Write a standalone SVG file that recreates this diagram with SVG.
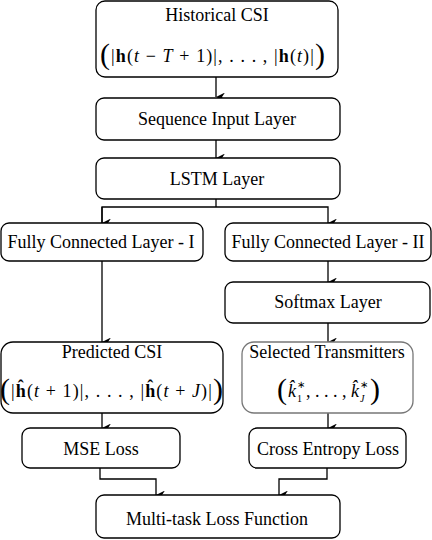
<svg xmlns="http://www.w3.org/2000/svg" width="432" height="540" viewBox="0 0 432 540">
<style>
.box{fill:#fff;stroke:#000;stroke-width:1.3}
.gbox{fill:#fff;stroke:#777;stroke-width:1.3}
.t{font-family:"Liberation Serif","Times New Roman",serif;font-size:18px;fill:#000;text-anchor:middle}
.m{font-family:"Liberation Serif","Times New Roman",serif;font-size:18px;fill:#000;text-anchor:middle;letter-spacing:1.1px}
.ms{font-family:"Liberation Serif","Times New Roman",serif;font-size:18px;fill:#000}
.sm{font-family:"Liberation Serif","Times New Roman",serif;font-size:10px;fill:#000}
.b{font-weight:bold}
.i{font-style:italic}
.p{font-size:30px}
.c{fill:none;stroke:#000;stroke-width:1.3}
</style>
<defs>
<marker id="ah" markerUnits="userSpaceOnUse" markerWidth="9" markerHeight="10" refX="4.5" refY="9" orient="auto-start-reverse" viewBox="0 0 9 10">
<path d="M0,0 L4.5,3 L9,0 L4.5,9 Z" fill="#000"/>
</marker>
</defs>
<g id="connectors">
<line class="c" x1="216" y1="77" x2="216" y2="97" marker-end="url(#ah)"/>
<line class="c" x1="216" y1="140" x2="216" y2="158" marker-end="url(#ah)"/>
<polyline class="c" points="216,199 216,207"/>
<polyline class="c" points="102,223 102,207 328,207 328,223" marker-end="url(#ah)"/>
<line class="c" x1="102" y1="207" x2="102" y2="223" marker-end="url(#ah)"/>
<line class="c" x1="328" y1="261" x2="328" y2="282" marker-end="url(#ah)"/>
<line class="c" x1="328" y1="323" x2="328" y2="342" marker-end="url(#ah)"/>
<line class="c" x1="102" y1="261" x2="102" y2="342" marker-end="url(#ah)"/>
<line class="c" x1="102" y1="413" x2="102" y2="428" marker-end="url(#ah)"/>
<line class="c" x1="328" y1="413" x2="328" y2="428" marker-end="url(#ah)"/>
<polyline class="c" points="100,468 100,479 156,479 156,495" marker-end="url(#ah)"/>
<polyline class="c" points="327,468 327,479 279,479 279,495" marker-end="url(#ah)"/>
</g>
<g id="historical">
<rect class="box" x="96" y="1" width="242" height="76" rx="9"/>
<text class="t" x="217" y="21">Historical CSI</text>
<text class="m" x="213" y="62"><tspan class="p" dy="2">(</tspan><tspan dy="-2">|</tspan><tspan class="b">h</tspan>(<tspan class="i">t</tspan> − <tspan class="i">T</tspan> + 1)|, . . . , |<tspan class="b">h</tspan>(<tspan class="i">t</tspan>)|<tspan class="p" dy="2">)</tspan></text>
</g>
<g id="seqinput">
<rect class="box" x="96" y="98" width="244" height="42" rx="8"/>
<text class="t" x="217" y="125">Sequence Input Layer</text>
</g>
<g id="lstm">
<rect class="box" x="96" y="158" width="244" height="41" rx="8"/>
<text class="t" x="217" y="185">LSTM Layer</text>
</g>
<g id="fc1">
<rect class="box" x="1" y="223" width="202" height="38" rx="8"/>
<text class="t" x="101" y="248">Fully Connected Layer - I</text>
</g>
<g id="fc2">
<rect class="box" x="225" y="223" width="206" height="38" rx="8"/>
<text class="t" x="328" y="248">Fully Connected Layer - II</text>
</g>
<g id="softmax">
<rect class="box" x="225" y="282" width="205" height="41" rx="8"/>
<text class="t" x="328" y="308">Softmax Layer</text>
</g>
<g id="predicted">
<rect class="box" x="1" y="342" width="222" height="71" rx="12"/>
<text class="t" x="112" y="358">Predicted CSI</text>
<text class="m" x="112" y="397"><tspan class="p" dy="2">(</tspan><tspan dy="-2">|</tspan><tspan class="b">ĥ</tspan>(<tspan class="i">t</tspan> + 1)|, . . . , |<tspan class="b">ĥ</tspan>(<tspan class="i">t</tspan> + <tspan class="i">J</tspan>)|<tspan class="p" dy="2">)</tspan></text>
</g>
<g id="selected">
<rect class="gbox" x="242" y="342" width="171" height="71" rx="12"/>
<text class="t" x="327" y="358">Selected Transmitters</text>
<text class="ms" x="277" y="399"><tspan class="p">(</tspan></text>
<text class="ms i" x="288" y="397">k̂</text>
<text class="sm" x="297" y="388">∗</text>
<text class="sm" x="297" y="402">1</text>
<text class="ms" x="306" y="397">, . . . ,</text>
<text class="ms i" x="351" y="397">k̂</text>
<text class="sm" x="360" y="388">∗</text>
<text class="sm i" x="360" y="402">J</text>
<text class="ms" x="370" y="399"><tspan class="p">)</tspan></text>
</g>
<g id="mse">
<rect class="box" x="22" y="428" width="158" height="40" rx="8"/>
<text class="t" x="101" y="455">MSE Loss</text>
</g>
<g id="ce">
<rect class="box" x="249" y="428" width="157" height="40" rx="8"/>
<text class="t" x="328" y="455">Cross Entropy Loss</text>
</g>
<g id="multitask">
<rect class="box" x="96" y="495" width="244" height="43" rx="8"/>
<text class="t" x="217" y="525">Multi-task Loss Function</text>
</g>
</svg>
